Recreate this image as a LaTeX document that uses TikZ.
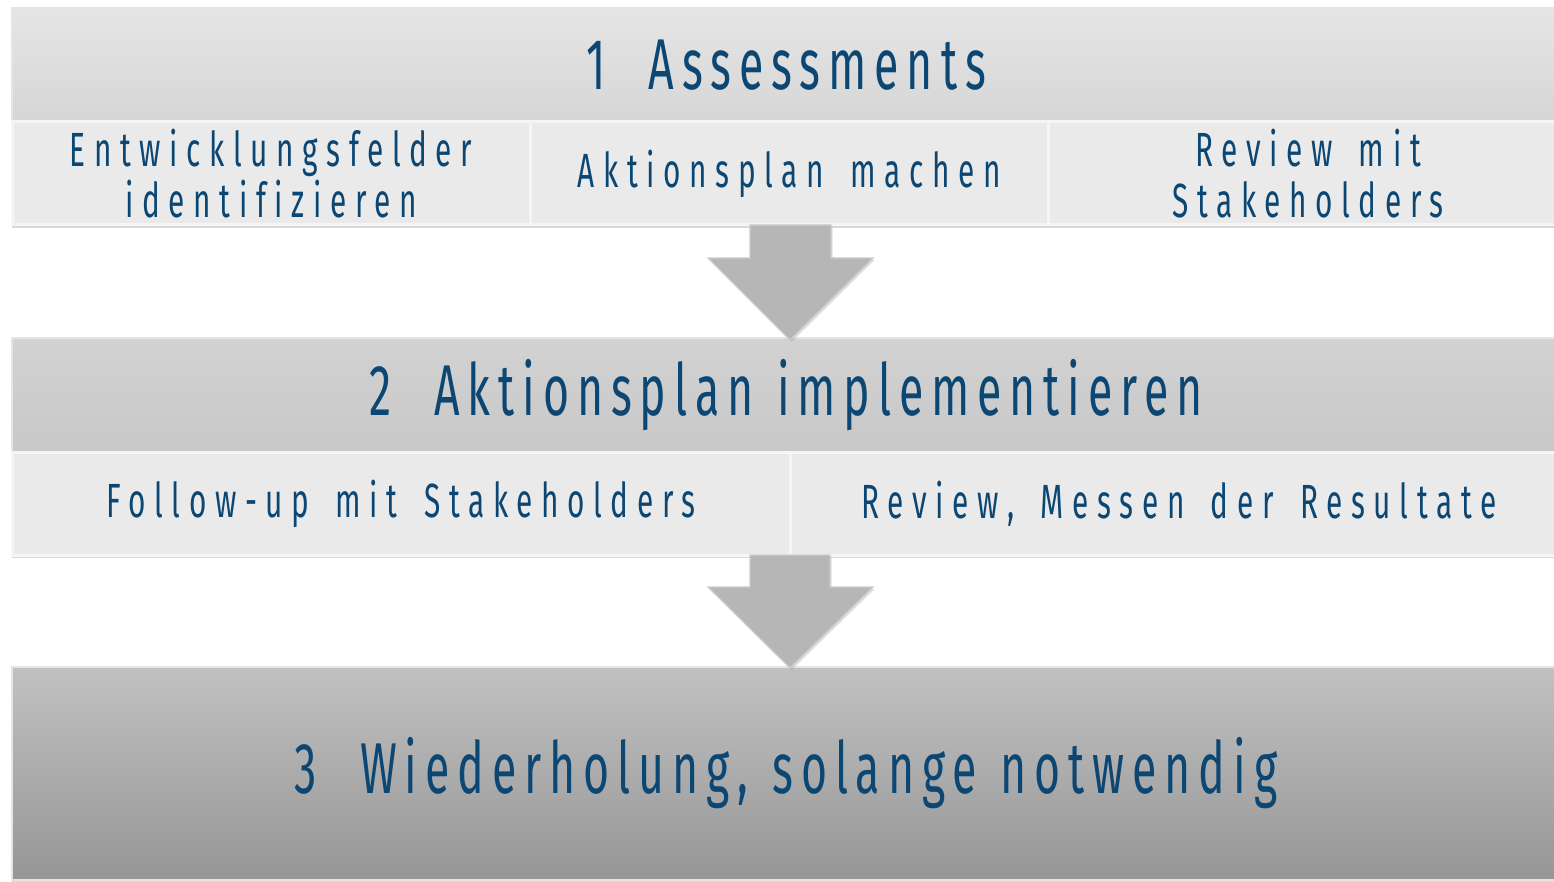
\documentclass[tikz,border=0pt]{standalone}
\usepackage{fontspec}
\usepackage{tikz}
\usetikzlibrary{positioning,shadows,calc}
\newfontfamily\stepfont[FakeStretch=0.62,LetterSpace=18,WordSpace=1.6,Ligatures=NoCommon]{Fira Sans}
\newfontfamily\bandfont[FakeStretch=0.62,LetterSpace=11,WordSpace=1.2,Ligatures=NoCommon]{Fira Sans}
\definecolor{stepblue}{RGB}{12,70,115}
\definecolor{headonetop}{RGB}{229,229,229}
\definecolor{headonebot}{RGB}{214,214,214}
\definecolor{headtwotop}{RGB}{210,210,210}
\definecolor{headtwobot}{RGB}{200,200,200}
\definecolor{headthreetop}{RGB}{193,193,193}
\definecolor{headthreebot}{RGB}{150,150,150}
\definecolor{subgray}{RGB}{234,234,234}
\definecolor{arrowgray}{RGB}{182,182,182}

\begin{document}
\begin{tikzpicture}[x=0.5pt,y=-0.5pt,
			every node/.style={inner sep=0pt,outer sep=0pt,text=stepblue},
			band/.style={draw=white!90!black,line width=1.2pt,
				drop shadow={opacity=0.3,shadow xshift=0pt,shadow yshift=-1.5pt},
				font=\bandfont\fontsize{36}{40}\selectfont},
			subbox/.style={draw=white!96!black,line width=1.5pt,fill=subgray,
				minimum height=51.5pt,align=center,
				drop shadow={opacity=0.3,shadow xshift=0pt,shadow yshift=-1.5pt},
				font=\stepfont\fontsize{24}{25.5}\selectfont},
			flowarrow/.style={fill=arrowgray,draw=white!80!black,line width=0.6pt,
				drop shadow={opacity=0.25,shadow xshift=0.8pt,shadow yshift=-1pt}}]
			\useasboundingbox (0,0) rectangle (1554,882);
			\fill[white] (0,0) rectangle (1554,882);

			\node[band,top color=headonetop,bottom color=headonebot,
				minimum width=774pt,minimum height=57pt] (h1) at (786,65) {1\hspace{0.6em}Assessments};
			\node[subbox,minimum width=259pt,below right=0pt and 0pt of h1.south west] (s11) {Entwicklungsfelder\\identifizieren};
			\node[subbox,minimum width=259pt,right=0pt of s11] (s12) {Aktionsplan machen};
			\node[subbox,minimum width=260pt,right=0pt of s12] (s13) {Review mit\\Stakeholders};

			\node[band,top color=headtwotop,bottom color=headtwobot,
				minimum width=774pt,minimum height=57pt] (h2) at (786,395) {2\hspace{0.6em}Aktionsplan implementieren};
			\node[subbox,minimum width=389pt,below right=0pt and 0pt of h2.south west] (s21) {Follow-up mit Stakeholders};
			\node[subbox,minimum width=389pt,right=0pt of s21] (s22) {Review, Messen der Resultate};

			\node[band,top color=headthreetop,bottom color=headthreebot,
				minimum width=774pt,minimum height=106.5pt] (h3) at (786,773.5) {3\hspace{0.6em}Wiederholung, solange notwendig};

			\path[flowarrow] ($(s12.south)+(-39,0)$) -- ++(0,33) -- ++(-42,0)
				-- ($(s12.south |- h2.north)+(1,2)$) -- ($(s12.south)+(84,33)$)
				-- ++(-42,0) -- ++(0,-33) -- cycle;
			\path[flowarrow] ($(s21.south east)+(-40,0)$) -- ++(0,32) -- ++(-42,0)
				-- ($(s21.south east |- h3.north)+(0,1)$) -- ($(s21.south east)+(83,32)$)
				-- ++(-43,0) -- ++(0,-32) -- cycle;
\end{tikzpicture}
\end{document}
